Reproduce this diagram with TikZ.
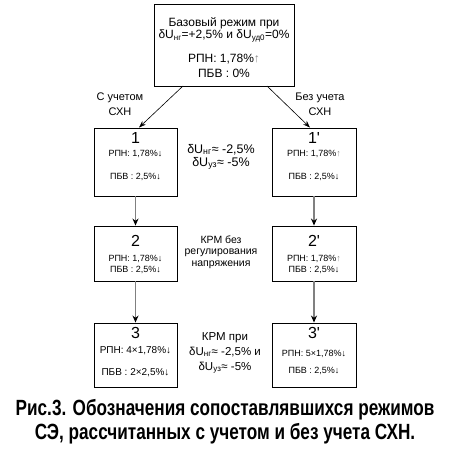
\documentclass[tikz,border=0pt]{standalone}
\usepackage{fontspec}
\setmainfont{Liberation Sans}
\usetikzlibrary{arrows.meta}
\newcommand{\qt}{\textquotesingle}
\tikzset{
  box/.style={draw=black, line width=0.9pt, fill=white, inner sep=0pt},
  txt/.style={anchor=base, inner sep=0pt, font=#1},
  big/.style={txt=\fontsize{16}{16}\selectfont},
  small/.style={txt=\fontsize{9}{10}\selectfont},
  smallb/.style={txt=\fontsize{10}{11}\selectfont},
  mid/.style={txt=\fontsize{11}{12}\selectfont},
  midd/.style={txt=\fontsize{12.5}{13}\selectfont},
  midt/.style={txt=\fontsize{11.5}{12}\selectfont},
  midsm/.style={txt=\fontsize{10.5}{11}\selectfont},
  head/.style={txt=\fontsize{12}{13}\selectfont},
  diag/.style={draw=black, line width=0.6pt, -{Stealth[length=7pt,width=5pt]}},
  vert/.style={draw=black!50, line width=1.6pt, -{Stealth[length=7pt,width=6pt,color=black]}},
  captxt/.style={anchor=base, inner sep=0pt, font=\fontsize{22}{24}\selectfont\bfseries},
}
\begin{document}
\begin{tikzpicture}[x=1pt,y=-1pt]
\useasboundingbox[fill=white] (0,0) rectangle (450,450);
% boxes
\node[box, minimum width=140pt, minimum height=82pt] (top) at (224,45) {};
\node[box, minimum width=83pt, minimum height=68pt] (b1) at (135.5,162) {};
\node[box, minimum width=84pt, minimum height=68pt] (b1p) at (314,162) {};
\node[box, minimum width=83pt, minimum height=55pt] (b2) at (135.5,253.5) {};
\node[box, minimum width=84pt, minimum height=55pt] (b2p) at (314,253.5) {};
\node[box, minimum width=83pt, minimum height=64pt] (b3) at (135.5,355) {};
\node[box, minimum width=84pt, minimum height=64pt] (b3p) at (314,355) {};
% top box text
\node[head] (t1) at (224,26) {Базовый режим при};
\node[head] (t2) at (224,38.5) {δU\textsubscript{нг}=+2,5\% и δU\textsubscript{уд0}=0\%};
\node[head] (t3) at (224,62) {РПН: 1,78\%\textcolor{black!45}{↑}};
\node[head] (t4) at (224,77) {ПБВ : 0\%};
% side labels
\node[mid] (l1) at (120,100) {С учетом};
\node[mid] (l2) at (120,115) {СХН};
\node[mid] (r1) at (320,100) {Без учета};
\node[mid] (r2) at (320,115) {СХН};
% box 1
\node[big] (n1) at (135.5,143) {1};
\node[small] (n1a) at (135.5,156) {РПН: 1,78\%↓};
\node[small] (n1b) at (135.5,179) {ПБВ : 2,5\%↓};
\node[big] (n1p) at (314,143) {1\qt};
\node[small] (n1pa) at (314,156) {РПН: 1,78\%\textcolor{black!45}{↑}};
\node[small] (n1pb) at (314,179) {ПБВ : 2,5\%↓};
\node[midd] (m1a) at (221,153) {δU\textsubscript{нг}≈ -2,5\%};
\node[midd] (m1b) at (221,166) {δU\textsubscript{уз}≈ -5\%};
% box 2
\node[big] (n2) at (135.5,246) {2};
\node[small] (n2a) at (135.5,261) {РПН: 1,78\%↓};
\node[small] (n2b) at (135.5,272.5) {ПБВ : 2,5\%↓};
\node[big] (n2p) at (314,246) {2\qt};
\node[small] (n2pa) at (314,261) {РПН: 1,78\%\textcolor{black!45}{↑}};
\node[small] (n2pb) at (314,272.5) {ПБВ : 2,5\%↓};
\node[midsm] (m2a) at (221,243) {КРМ без};
\node[midsm] (m2b) at (221,254.5) {регулирования};
\node[midsm] (m2c) at (221,266) {напряжения};
% box 3
\node[big] (n3) at (135.5,338) {3};
\node[smallb] (n3a) at (135.5,353) {РПН: 4×1,78\%↓};
\node[smallb] (n3b) at (135.5,375) {ПБВ : 2×2,5\%↓};
\node[big] (n3p) at (314,338) {3\qt};
\node[small] (n3pa) at (314,356) {РПН: 5×1,78\%↓};
\node[small] (n3pb) at (314,373) {ПБВ : 2,5\%↓};
\node[midt] (m3a) at (225,340) {КРМ при};
\node[midt] (m3b) at (225,355) {δU\textsubscript{нг}≈ -2,5\% и};
\node[midt] (m3c) at (225,370) {δU\textsubscript{уз}≈ -5\%};
% connectors
\coordinate (tl) at (183,86);
\coordinate (tr) at (267,86);
\draw[diag] (tl) -- (b1.north -| 139,0);
\draw[diag] (tr) -- (b1p.north -| 310,0);
\draw[vert] (b1.south) -- (b2.north);
\draw[vert] (b2.south) -- (b3.north);
\draw[vert] (b1p.south) -- (b2p.north);
\draw[vert] (b2p.south) -- (b3p.north);
% caption
\node[captxt] (c1) at (225,415) {\scalebox{0.78}[1]{Рис.3. Обозначения сопоставлявшихся режимов}};
\node[captxt] (c2) at (225,439) {\scalebox{0.78}[1]{СЭ, рассчитанных с учетом и без учета СХН.}};
\end{tikzpicture}
\end{document}
